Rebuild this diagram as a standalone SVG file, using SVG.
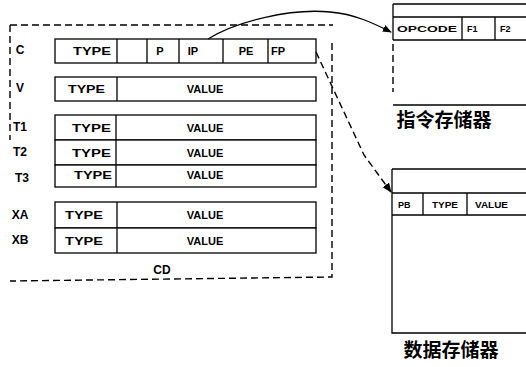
<svg xmlns="http://www.w3.org/2000/svg" width="526" height="367" viewBox="0 0 526 367">
<defs>
<style>
.t{font-family:"Liberation Sans",Arial,sans-serif;font-weight:bold;font-size:11px;fill:#000}
.lab{font-family:"Liberation Sans",Arial,sans-serif;font-weight:bold;font-size:12px;fill:#000}
.sm{font-family:"Liberation Sans",Arial,sans-serif;font-weight:bold;font-size:9px;fill:#000}
.cn{font-family:"Noto Sans CJK SC","Noto Sans CJK JP",sans-serif;font-weight:bold;font-size:19px;fill:#000}
.cell{fill:#fff;stroke:#000;stroke-width:1.3}
.ln{stroke:#000;stroke-width:1.3;fill:none}
.dash{stroke:#000;stroke-width:1.4;fill:none;stroke-dasharray:7 4}
</style>
<marker id="ah" viewBox="0 0 10 10" refX="9" refY="5" markerWidth="7" markerHeight="7" orient="auto">
<path d="M0,1 L10,5 L0,9 Z" fill="#000"/>
</marker>
</defs>
<rect width="526" height="367" fill="#fff"/>

<g id="CD">
<path class="dash" d="M10,25 L333,25 M332,43 L332,277 L10,281 M10,25 L10,140"/>
<text class="lab" x="162" y="274" text-anchor="middle">CD</text>
</g>

<g id="row-C">
<text class="lab" x="20" y="54" text-anchor="middle">C</text>
<rect class="cell" x="55" y="39" width="261" height="24"/>
<path class="ln" d="M117,39 V63 M147,39 V63 M179,39 V63 M223,39 V63 M268,39 V63"/>
<text class="t" x="73" y="55" textLength="38" lengthAdjust="spacingAndGlyphs">TYPE</text>
<text class="t" x="160" y="55" text-anchor="middle">P</text>
<text class="t" x="193" y="55" text-anchor="middle">IP</text>
<text class="t" x="246" y="55" text-anchor="middle">PE</text>
<text class="t" x="278" y="55" text-anchor="middle">FP</text>
</g>

<g id="row-V">
<text class="lab" x="20" y="92" text-anchor="middle">V</text>
<rect class="cell" x="55" y="77" width="261" height="24"/>
<path class="ln" d="M117,77 V101"/>
<text class="t" x="68" y="93" textLength="37" lengthAdjust="spacingAndGlyphs">TYPE</text>
<text class="t" x="205" y="93" text-anchor="middle">VALUE</text>
</g>

<g id="row-T1">
<text class="lab" x="20" y="131" text-anchor="middle">T1</text>
<rect class="cell" x="55" y="115" width="261" height="25"/>
<path class="ln" d="M116,115 V140"/>
<text class="t" x="72" y="132" textLength="39" lengthAdjust="spacingAndGlyphs">TYPE</text>
<text class="t" x="205" y="132" text-anchor="middle">VALUE</text>
</g>

<g id="row-T2">
<text class="lab" x="20" y="156" text-anchor="middle">T2</text>
<rect class="cell" x="55" y="140" width="261" height="25"/>
<path class="ln" d="M116,140 V165"/>
<text class="t" x="72" y="157" textLength="39" lengthAdjust="spacingAndGlyphs">TYPE</text>
<text class="t" x="205" y="157" text-anchor="middle">VALUE</text>
</g>

<g id="row-T3">
<text class="lab" x="22" y="182" text-anchor="middle">T3</text>
<rect class="cell" x="55" y="165" width="261" height="22"/>
<path class="ln" d="M116,165 V187"/>
<text class="t" x="74" y="179" textLength="38" lengthAdjust="spacingAndGlyphs">TYPE</text>
<text class="t" x="205" y="179" text-anchor="middle">VALUE</text>
</g>

<g id="row-XA">
<text class="lab" x="20" y="219" text-anchor="middle">XA</text>
<rect class="cell" x="55" y="202" width="261" height="26"/>
<path class="ln" d="M117,202 V228"/>
<text class="t" x="65" y="219" textLength="38" lengthAdjust="spacingAndGlyphs">TYPE</text>
<text class="t" x="205" y="219" text-anchor="middle">VALUE</text>
</g>

<g id="row-XB">
<text class="lab" x="20" y="244" text-anchor="middle">XB</text>
<rect class="cell" x="55" y="228" width="261" height="25"/>
<path class="ln" d="M117,228 V253"/>
<text class="t" x="65" y="245" textLength="38" lengthAdjust="spacingAndGlyphs">TYPE</text>
<text class="t" x="205" y="245" text-anchor="middle">VALUE</text>
</g>

<g id="instr-mem">
<path class="ln" d="M393,4 H526 M393,4 V40 M393,17 H526 M393,40 H526 M462,17 V40 M495,17 V40 M393,105 H526"/>
<path class="dash" d="M393,44 V92" stroke-dasharray="5 6"/>
<text class="sm" x="397" y="32" textLength="60" lengthAdjust="spacingAndGlyphs">OPCODE</text>
<text class="sm" x="467" y="32">F1</text>
<text class="sm" x="500" y="32">F2</text>
<text class="cn" x="444" y="127" text-anchor="middle">指令存储器</text>
</g>

<g id="data-mem">
<path class="ln" d="M392,169 H526 M392,169 V333 H526 M392,193 H526 M392,215 H526 M423,193 V215 M467,193 V215"/>
<text class="sm" x="398" y="208">PB</text>
<text class="sm" x="432" y="208" textLength="26" lengthAdjust="spacingAndGlyphs">TYPE</text>
<text class="sm" x="475" y="208" textLength="33" lengthAdjust="spacingAndGlyphs">VALUE</text>
<text class="cn" x="451" y="357" text-anchor="middle">数据存储器</text>
</g>

<g id="connectors">
<path class="ln" d="M208,39 C235,22 290,8 330,12 C355,14 375,24 391,32" marker-end="url(#ah)"/>
<path class="dash" d="M316,52 L364,155 L391,192" stroke-dasharray="5 3" marker-end="url(#ah)"/>
</g>
</svg>
